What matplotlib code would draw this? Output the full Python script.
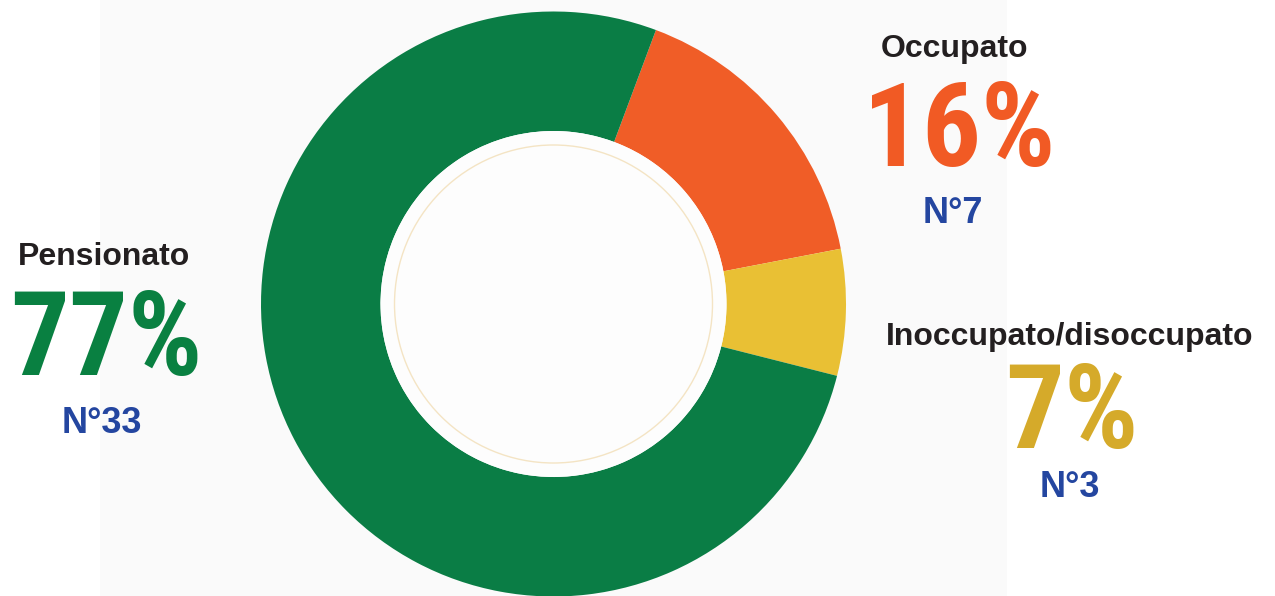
import matplotlib
matplotlib.use("Agg")
import matplotlib.pyplot as plt
import matplotlib.patches as mpatches
from matplotlib import font_manager

# ── Data ─────────────────────────────────────────────────────────────────────
categories = ["Occupato", "Inoccupato/disoccupato", "Pensionato"]
counts = [7, 3, 33]
percent_labels = ["16%", "7%", "77%"]
count_labels = ["N°7", "N°3", "N°33"]

# ── Styling ──────────────────────────────────────────────────────────────────
WEDGE_COLORS = ["#f05d27", "#e9c034", "#0a7d45"]
PCT_COLORS = ["#f15a24", "#d5aa2a", "#098041"]
LABEL_COLOR = "#231f20"
COUNT_COLOR = "#2446a0"

W, H = 1275, 596
CX, CY = 553.5, 596 - 304
R_OUT, R_IN = 292.5, 173

# narrowest bold face available for the big percentages
names = {f.name for f in font_manager.fontManager.ttflist}
if "Liberation Sans Narrow" in names:
    PCT_FONT, PCT_SIZE = "Liberation Sans Narrow", 80
elif "Roboto Condensed" in names:
    PCT_FONT, PCT_SIZE = "Roboto Condensed", 84
else:
    PCT_FONT, PCT_SIZE = "Roboto", 73

# text block positions (x centre, baseline) in pixel units, y from the top
LABEL_POS = [(954, 57), (1070, 345), (104, 265)]
PCT_POS = [(959, 166), (1072, 448), (106, 375)]
COUNT_POS = [(953, 223), (1070, 497), (102, 433)]

fig = plt.figure(figsize=(W / 100, H / 100), dpi=100)
fig.patch.set_facecolor("white")
ax = fig.add_axes([0, 0, 1, 1])

# light panel behind the chart
ax.add_patch(mpatches.Rectangle((100, 0), 907, H, facecolor="#fafafa",
                                edgecolor="none", zorder=0))

ax.pie(
    counts,
    colors=WEDGE_COLORS,
    startangle=69.5,
    counterclock=False,
    center=(CX, CY),
    radius=R_OUT,
    frame=True,
    wedgeprops=dict(width=R_OUT - R_IN, linewidth=0, edgecolor="none"),
)

# hole with a faint inner ring
ax.add_patch(mpatches.Circle((CX, CY), R_IN, facecolor="#fdfdfd",
                             edgecolor="none", zorder=3))
ax.add_patch(mpatches.Circle((CX, CY), 159, facecolor="none",
                             edgecolor="#f4e4c4", linewidth=1.0, zorder=4))

for i, cat in enumerate(categories):
    x, y = LABEL_POS[i]
    ax.text(x, H - y, cat, ha="center", va="baseline", fontsize=23,
            fontweight="bold", color=LABEL_COLOR, family="Liberation Sans")
    x, y = PCT_POS[i]
    ax.text(x, H - y, percent_labels[i], ha="center", va="baseline",
            fontsize=PCT_SIZE, fontweight="bold", color=PCT_COLORS[i],
            family=PCT_FONT)
    x, y = COUNT_POS[i]
    ax.text(x, H - y, count_labels[i], ha="center", va="baseline",
            fontsize=26, fontweight="bold", color=COUNT_COLOR,
            family="Liberation Sans")

ax.set_xlim(0, W)
ax.set_ylim(0, H)
ax.set_aspect("equal")
ax.axis("off")

fig.savefig("out.png", dpi=100, facecolor=fig.get_facecolor())
